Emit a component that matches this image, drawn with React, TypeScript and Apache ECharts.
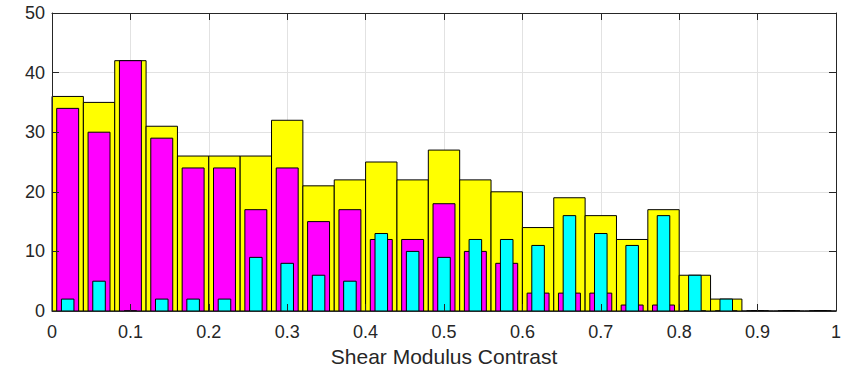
import React, { useEffect, useRef } from "react";
import * as echarts from "echarts";

const binCenters = [0.02, 0.06, 0.1, 0.14, 0.18, 0.22, 0.26, 0.3, 0.34, 0.38, 0.42, 0.46, 0.5, 0.54, 0.58, 0.62, 0.66, 0.7, 0.74, 0.78, 0.82, 0.86, 0.9, 0.94, 0.98];
const binWidth = 0.04;
const yellowCounts = [36, 35, 42, 31, 26, 26, 26, 32, 21, 22, 25, 22, 27, 22, 20, 14, 19, 16, 12, 17, 6, 2, 0, 0, 0];
const magentaCounts = [34, 30, 42, 29, 24, 24, 17, 24, 15, 17, 12, 12, 18, 10, 8, 3, 3, 3, 1, 1, 0, 0, 0, 0, 0];
const cyanCounts = [2, 5, 0, 2, 2, 2, 9, 8, 6, 5, 13, 10, 9, 12, 12, 11, 16, 13, 11, 16, 6, 2, 0, 0, 0];
const xAxisTitle = "Shear Modulus Contrast";

const FONT = "'Liberation Sans', Arial, Helvetica, sans-serif";
const AXIS_COLOR = "#262626";

function makeRender(frac: number, color: string) {
  return (_params: any, api: any) => {
    const c = api.value(0);
    const v = api.value(1);
    const half = (binWidth * frac) / 2;
    const p0 = api.coord([c - half, v]);
    const p1 = api.coord([c + half, 0]);
    return {
      type: "rect",
      shape: { x: p0[0], y: p0[1], width: p1[0] - p0[0], height: p1[1] - p0[1] },
      style: { fill: color, stroke: "#000000", lineWidth: 1 },
    };
  };
}

export default function App() {
  const ref = useRef<HTMLDivElement>(null);
  useEffect(() => {
    document.body.style.margin = "0";
    const chart = echarts.init(ref.current!, null, { renderer: "svg" });
    const gridPos = { left: 52, right: 22, top: 13, bottom: 56, containLabel: false, outerBoundsMode: "none" };
    const tickStyle = { show: true, inside: true, length: 7, lineStyle: { color: AXIS_COLOR, width: 1 } };
    const lineStyle = { show: true, onZero: false, lineStyle: { color: AXIS_COLOR, width: 1 } };
    const mk = (vals: number[]) => binCenters.map((c, i) => [c, vals[i]]);
    chart.setOption({
      animation: false,
      grid: [{ ...gridPos }, { ...gridPos }],
      xAxis: [
        {
          gridIndex: 0, type: "value", min: 0, max: 1, interval: 0.1, z: 0,
          axisLine: { show: false }, axisTick: { show: false }, axisLabel: { show: false },
          splitLine: { show: true, lineStyle: { color: "#e2e2e2", width: 1 } },
        },
        {
          gridIndex: 1, type: "value", position: "bottom", min: 0, max: 1, interval: 0.1, z: 10,
          axisLine: lineStyle, axisTick: tickStyle, splitLine: { show: false },
          axisLabel: {
            show: true, color: AXIS_COLOR, fontSize: 18, fontFamily: FONT, margin: 12,
            formatter: (v: number) => String(Math.round(v * 10) / 10),
          },
          name: xAxisTitle, nameLocation: "middle", nameGap: 34,
          nameTextStyle: { color: AXIS_COLOR, fontSize: 21, fontFamily: FONT },
        },
        {
          gridIndex: 1, type: "value", position: "top", min: 0, max: 1, interval: 0.1, z: 10,
          axisLine: lineStyle, axisTick: tickStyle, splitLine: { show: false }, axisLabel: { show: false },
        },
      ],
      yAxis: [
        {
          gridIndex: 0, type: "value", min: 0, max: 50, interval: 10, z: 0,
          axisLine: { show: false }, axisTick: { show: false }, axisLabel: { show: false },
          splitLine: { show: true, lineStyle: { color: "#e2e2e2", width: 1 } },
        },
        {
          gridIndex: 1, type: "value", position: "left", min: 0, max: 50, interval: 10, z: 10,
          axisLine: lineStyle, axisTick: tickStyle, splitLine: { show: false },
          axisLabel: { show: true, color: AXIS_COLOR, fontSize: 18, fontFamily: FONT, margin: 7 },
        },
        {
          gridIndex: 1, type: "value", position: "right", min: 0, max: 50, interval: 10, z: 10,
          axisLine: lineStyle, axisTick: tickStyle, splitLine: { show: false }, axisLabel: { show: false },
        },
      ],
      series: [
        { type: "custom", xAxisIndex: 1, yAxisIndex: 1, z: 2, renderItem: makeRender(1.0, "#ffff00"), data: mk(yellowCounts) },
        { type: "custom", xAxisIndex: 1, yAxisIndex: 1, z: 3, renderItem: makeRender(0.7, "#ff00ff"), data: mk(magentaCounts) },
        { type: "custom", xAxisIndex: 1, yAxisIndex: 1, z: 4, renderItem: makeRender(0.4, "#00ffff"), data: mk(cyanCounts) },
      ],
    });
    return () => chart.dispose();
  }, []);
  return <div ref={ref} style={{ width: 858, height: 367 }} />;
}
